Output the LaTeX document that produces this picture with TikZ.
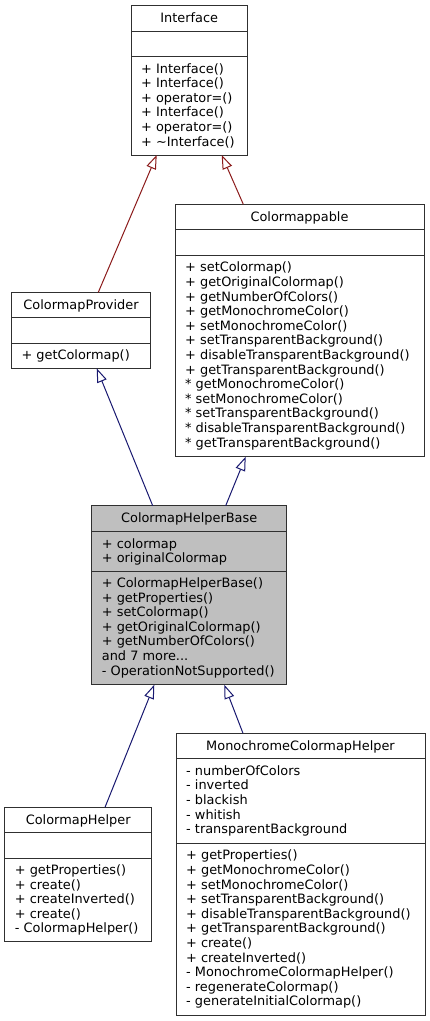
\documentclass[tikz,border=0pt]{standalone}
\usepackage{fontspec}
\setmainfont{DejaVu Sans}
\usetikzlibrary{arrows.meta,calc}
\definecolor{edgeblue}{HTML}{191970}
\definecolor{edgered}{HTML}{8B1A1A}
\definecolor{boxline}{HTML}{303030}
\definecolor{hlfill}{HTML}{BFBFBF}
\newcommand\umlfont{\fontsize{12.9}{14.6}\selectfont}
\newcommand\mydots{...}
\tikzset{
  classbox/.style={draw=boxline, line width=1pt, fill=white, rectangle, inner sep=0pt, outer sep=0pt, anchor=north west},
  sepline/.style={draw=boxline, line width=1pt},
  classtitle/.style={font=\umlfont, inner sep=0pt, anchor=base},
  member/.style={font=\umlfont, inner sep=0pt, anchor=base west},
  inh/.style={line width=1pt, -{Triangle[length=14pt,width=10pt,fill=white]}},
}
\newcommand\memberlist[4]{%
  \foreach \t [count=\i] in {#4} {\node[member] (#1-\i) at (#2, {#3+(\i-1)*14.6}) {\t};}}
\begin{document}
\begin{tikzpicture}[x=1pt,y=-1pt]
\useasboundingbox (0,0) rectangle (429,1021);

% Interface
\node[classbox, minimum width=116.5pt, minimum height=150pt] (iface) at (131,5) {};
\draw[sepline] ($(iface.north west)+(0,26.3)$) -- ($(iface.north east)+(0,26.3)$);
\draw[sepline] ($(iface.north west)+(0,51.7)$) -- ($(iface.north east)+(0,51.7)$);
\node[classtitle] (iface-t) at ($(iface.north)+(0,17)$) {Interface};
\memberlist{iface-m}{141}{73}{{+ Interface()},{+ Interface()},{+ operator=()},{+ Interface()},{+ operator=()},{+ \textasciitilde Interface()}}

% Colormappable
\node[classbox, minimum width=249pt, minimum height=252.4pt] (cmap) at (175,204.3) {};
\draw[sepline] ($(cmap.north west)+(0,25.4)$) -- ($(cmap.north east)+(0,25.4)$);
\draw[sepline] ($(cmap.north west)+(0,51)$) -- ($(cmap.north east)+(0,51)$);
\node[classtitle] (cmap-t) at ($(cmap.north)+(0,17)$) {Colormappable};
\memberlist{cmap-m}{185}{271.8}{{+ setColormap()},{+ getOriginalColormap()},{+ getNumberOfColors()},{+ getMonochromeColor()},{+ setMonochromeColor()},{+ setTransparentBackground()},{+ disableTransparentBackground()},{+ getTransparentBackground()},{* getMonochromeColor()},{* setMonochromeColor()},{* setTransparentBackground()},{* disableTransparentBackground()},{* getTransparentBackground()}}

% ColormapProvider
\node[classbox, minimum width=139.4pt, minimum height=76pt] (cp) at (11.3,292.3) {};
\draw[sepline] ($(cp.north west)+(0,25.4)$) -- ($(cp.north east)+(0,25.4)$);
\draw[sepline] ($(cp.north west)+(0,51)$) -- ($(cp.north east)+(0,51)$);
\node[classtitle] (cp-t) at ($(cp.north)+(0,17)$) {ColormapProvider};
\memberlist{cp-m}{21.3}{359.8}{{+ getColormap()}}

% ColormapHelperBase
\node[classbox, fill=hlfill, minimum width=195pt, minimum height=179pt] (chb) at (91.7,505.7) {};
\draw[sepline] ($(chb.north west)+(0,26)$) -- ($(chb.north east)+(0,26)$);
\draw[sepline] ($(chb.north west)+(0,65.3)$) -- ($(chb.north east)+(0,65.3)$);
\node[classtitle] (chb-t) at ($(chb.north)+(0,17)$) {ColormapHelperBase};
\memberlist{chb-a}{101.7}{548.2}{{+ colormap},{+ originalColormap}}
\memberlist{chb-m}{101.7}{587.5}{{+ ColormapHelperBase()},{+ getProperties()},{+ setColormap()},{+ getOriginalColormap()},{+ getNumberOfColors()},{and 7 more\mydots},{- OperationNotSupported()}}

% ColormapHelper
\node[classbox, minimum width=147pt, minimum height=134.4pt] (ch) at (4.7,807.3) {};
\draw[sepline] ($(ch.north west)+(0,25.4)$) -- ($(ch.north east)+(0,25.4)$);
\draw[sepline] ($(ch.north west)+(0,50.7)$) -- ($(ch.north east)+(0,50.7)$);
\node[classtitle] (ch-t) at ($(ch.north)+(0,17)$) {ColormapHelper};
\memberlist{ch-m}{14.7}{874.5}{{+ getProperties()},{+ create()},{+ createInverted()},{+ create()},{- ColormapHelper()}}

% MonochromeColormapHelper
\node[classbox, minimum width=249pt, minimum height=281.7pt] (mch) at (176,733.3) {};
\draw[sepline] ($(mch.north west)+(0,25.4)$) -- ($(mch.north east)+(0,25.4)$);
\draw[sepline] ($(mch.north west)+(0,110)$) -- ($(mch.north east)+(0,110)$);
\node[classtitle] (mch-t) at ($(mch.north)+(0,17)$) {MonochromeColormapHelper};
\memberlist{mch-a}{186}{775.2}{{- numberOfColors},{- inverted},{- blackish},{- whitish},{- transparentBackground}}
\memberlist{mch-m}{186}{859.8}{{+ getProperties()},{+ getMonochromeColor()},{+ setMonochromeColor()},{+ setTransparentBackground()},{+ disableTransparentBackground()},{+ getTransparentBackground()},{+ create()},{+ createInverted()},{- MonochromeColormapHelper()},{- regenerateColormap()},{- generateInitialColormap()}}

% connector end points
\coordinate (p1s) at ($(cp.north west)+(87,0)$);
\coordinate (p1e) at ($(iface.south west)+(25.7,0)$);
\coordinate (p2s) at ($(cmap.north west)+(68.3,0)$);
\coordinate (p2e) at ($(iface.south west)+(90.7,0)$);
\coordinate (p3s) at ($(chb.north west)+(61,0)$);
\coordinate (p3e) at ($(cp.south west)+(85.4,0)$);
\coordinate (p4s) at ($(chb.north west)+(134,0)$);
\coordinate (p4e) at ($(cmap.south west)+(70.7,0)$);
\coordinate (p5s) at ($(ch.north west)+(100.3,0)$);
\coordinate (p5e) at ($(chb.south west)+(62.6,0)$);
\coordinate (p6s) at ($(mch.north west)+(67,0)$);
\coordinate (p6e) at ($(chb.south west)+(132.6,0)$);

\draw[inh, edgered] (p1s) -- (p1e);
\draw[inh, edgered] (p2s) -- (p2e);
\draw[inh, edgeblue] (p3s) -- (p3e);
\draw[inh, edgeblue] (p4s) -- (p4e);
\draw[inh, edgeblue] (p5s) -- (p5e);
\draw[inh, edgeblue] (p6s) -- (p6e);
\end{tikzpicture}
\end{document}
